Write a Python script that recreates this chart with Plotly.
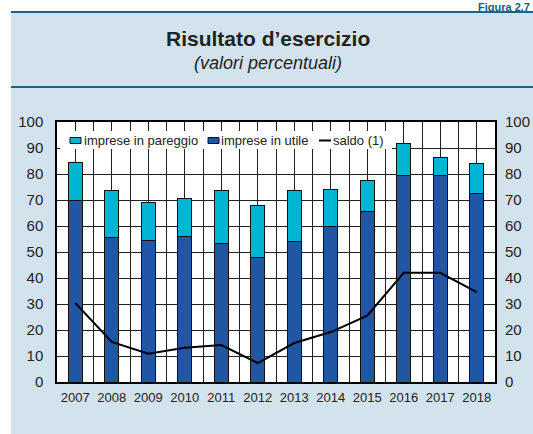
import plotly.graph_objects as go

# ---- data ----
years = [2007, 2008, 2009, 2010, 2011, 2012, 2013, 2014, 2015, 2016, 2017, 2018]
imprese_utile = [69.7, 55.5, 54.3, 55.8, 53.2, 48.0, 53.9, 59.7, 65.7, 79.4, 79.3, 72.6]
imprese_pareggio = [14.7, 18.1, 14.8, 14.7, 20.4, 20.0, 19.7, 14.4, 11.9, 12.5, 7.0, 11.5]
saldo = [30.4, 15.4, 10.9, 13.2, 14.2, 7.3, 15.0, 19.2, 25.5, 42.0, 42.0, 34.6]
y_ticks = [0, 10, 20, 30, 40, 50, 60, 70, 80, 90, 100]

title_text = "Risultato d’esercizio"
subtitle_text = "(valori percentuali)"
figure_label = "Figura 2.7"
legend_names = ["imprese in pareggio", "imprese in utile", "saldo (1)"]

# ---- styling ----
W, H = 533, 434
ML, MR, MT, MB = 57, 38, 122, 52
PW, PH = W - ML - MR, H - MT - MB
C_UTILE = "#2156a5"
C_PAREGGIO = "#00b5d3"
C_PANEL = "#d3e3ed"
C_RULE = "#1f6287"
FONT = "Arial, Liberation Sans, Helvetica, sans-serif"


def px(x):
    return (x - ML) / PW


def py(y):
    return (H - MB - y) / PH


fig = go.Figure()
fig.add_trace(go.Bar(x=years, y=imprese_utile, name=legend_names[1], width=0.38,
                     marker=dict(color=C_UTILE, line=dict(color="#111111", width=1)),
                     showlegend=False))
fig.add_trace(go.Bar(x=years, y=imprese_pareggio, name=legend_names[0], width=0.38,
                     marker=dict(color=C_PAREGGIO, line=dict(color="#111111", width=1)),
                     showlegend=False))
fig.add_trace(go.Scatter(x=years, y=saldo, name=legend_names[2], mode="lines",
                         line=dict(color="black", width=2), yaxis="y2",
                         showlegend=False))

shapes = [
    # light-blue panel
    dict(type="rect", xref="paper", yref="paper", x0=px(11), x1=px(W + 5), y0=py(12), y1=py(H + 5),
         fillcolor=C_PANEL, line=dict(width=0), layer="below"),
    # white plot area
    dict(type="rect", xref="paper", yref="paper", x0=0, x1=1, y0=0, y1=1,
         fillcolor="white", line=dict(width=0), layer="below"),
    # rules
    dict(type="line", xref="paper", yref="paper", x0=px(11), x1=px(W + 5), y0=py(12), y1=py(12),
         line=dict(color=C_RULE, width=2.2), layer="below"),
    dict(type="line", xref="paper", yref="paper", x0=px(11), x1=px(W + 5), y0=py(87), y1=py(87),
         line=dict(color=C_RULE, width=2), layer="below"),
    # legend box
    dict(type="rect", xref="paper", yref="paper", x0=px(60), x1=px(392), y0=py(131), y1=py(149),
         fillcolor="white", line=dict(width=0), layer="above"),
    # legend swatches
    dict(type="rect", xref="paper", yref="paper", x0=px(70), x1=px(81), y0=py(137.5), y1=py(143.5),
         fillcolor=C_PAREGGIO, line=dict(color="#111111", width=1), layer="above"),
    dict(type="rect", xref="paper", yref="paper", x0=px(208), x1=px(219), y0=py(137.5), y1=py(143.5),
         fillcolor=C_UTILE, line=dict(color="#111111", width=1), layer="above"),
    dict(type="line", xref="paper", yref="paper", x0=px(319), x1=px(331), y0=py(140.5), y1=py(140.5),
         line=dict(color="black", width=2), layer="above"),
]

annotations = [
    dict(text="<b>" + title_text + "</b>", x=px(267.5), y=py(38), xref="paper", yref="paper",
         showarrow=False, xanchor="center", yanchor="middle", borderpad=0,
         font=dict(family=FONT, size=21, color="#222222")),
    dict(text="<i>" + subtitle_text + "</i>", x=px(267.5), y=py(63), xref="paper", yref="paper",
         showarrow=False, xanchor="center", yanchor="middle", borderpad=0,
         font=dict(family=FONT, size=18, color="#222222")),
    dict(text="<b>" + figure_label + "</b>", x=px(531), y=py(0), xref="paper", yref="paper",
         showarrow=False, xanchor="right", yanchor="top", borderpad=0,
         font=dict(family=FONT, size=11, color="#1b5b7c")),
]
leg_x = [81.5, 219, 331]
for name, lx in zip(legend_names, leg_x):
    annotations.append(dict(text=name, x=px(lx), y=py(140.5), xref="paper", yref="paper",
                            showarrow=False, xanchor="left", yanchor="middle",
                            font=dict(family=FONT, size=13, color="#222222")))

axis_common = dict(range=[0, 100], tickvals=y_ticks, fixedrange=True, automargin=False,
                   tickfont=dict(family=FONT, size=15, color="#222222"), zeroline=False)

fig.update_layout(
    width=W, height=H,
    margin=dict(l=ML, r=MR, t=MT, b=MB),
    paper_bgcolor="white", plot_bgcolor="white",
    barmode="stack", showlegend=False,
    font=dict(family=FONT, color="#222222"),
    xaxis=dict(range=[years[0] - 0.5, years[-1] + 0.5], tickvals=years, ticks="",
               tickfont=dict(family=FONT, size=13, color="#222222"),
               showgrid=True, gridcolor="#222222", gridwidth=1,
               minor=dict(tick0=years[0] - 0.5, dtick=0.5, showgrid=True,
                          gridcolor="#222222", gridwidth=1),
               showline=True, linecolor="black", linewidth=1.5, mirror=True,
               ticklabelstandoff=3, zeroline=False, fixedrange=True, automargin=False),
    yaxis=dict(**axis_common, ticks="", showgrid=True, gridcolor="#222222", gridwidth=1,
               showline=True, linecolor="black", linewidth=1.5, mirror=True,
               ticklabelstandoff=9),
    yaxis2=dict(**axis_common, overlaying="y", side="right", showgrid=False,
                showline=False, ticks="", ticklabelstandoff=9),
    shapes=shapes, annotations=annotations,
)

fig.write_html("out.html", config={"displayModeBar": False},
               post_script="document.body.style.margin='0';")
